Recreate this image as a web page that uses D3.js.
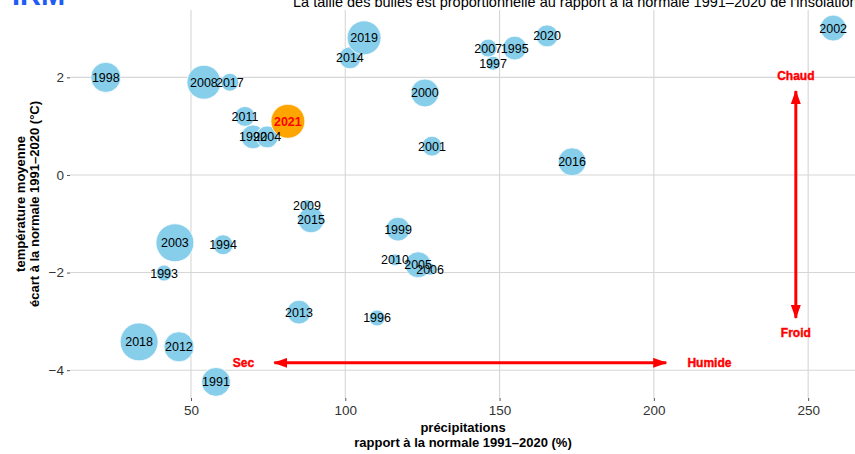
<!DOCTYPE html>
<html lang="fr">

<head>
    <meta charset="UTF-8">
    <title>Précipitations et température</title>
    <script src="https://d3js.org/d3.v7.min.js"></script>
    <style>
        body { margin: 0; background: white; }
        text { font-family: "Liberation Sans", Arial, sans-serif; }
    </style>
</head>

<body>
    <script>

        // one entry per year, same order in every array
        var years = [1991, 1992, 1993, 1994, 1995, 1996, 1997, 1998, 1999, 2000,
                     2001, 2002, 2003, 2004, 2005, 2006, 2007, 2008, 2009, 2010,
                     2011, 2012, 2013, 2014, 2015, 2016, 2017, 2018, 2019, 2020, 2021];
        // précipitations, % de la normale 1991-2020
        var precip = [58.1, 70.1, 41.3, 60.4, 154.9, 110.3, 147.9, 22.4, 117.1, 125.8,
                      128.1, 258.1, 44.8, 74.7, 123.6, 127.5, 146.3, 54.2, 87.6, 116.1,
                      67.5, 46.1, 85.0, 101.5, 88.9, 173.5, 62.6, 33.2, 106.1, 165.4, 81.4];
        // température, écart à la normale (°C)
        var temp = [-4.24, 0.78, -2.01, -1.43, 2.6, -2.93, 2.29, 2.0, -1.11, 1.68,
                    0.59, 3.01, -1.39, 0.78, -1.84, -1.93, 2.6, 1.9, -0.63, -1.74,
                    1.2, -3.52, -2.81, 2.4, -0.92, 0.27, 1.9, -3.42, 2.81, 2.85, 1.1];
        // insolation, % de la normale
        var insol = [109, 89, 62, 75, 89, 62, 56, 114, 89, 105,
                     75, 97, 150, 82, 97, 32, 68, 131, 32, 32,
                     75, 114, 89, 82, 97, 105, 68, 150, 131, 82, 131];

        var highlightYear = 2021;

        var xTicks = [50, 100, 150, 200, 250];
        var yTicks = [2, 0, -2, -4];

        // annotation arrows (data units)
        var hArrow = [77, 204, -3.85];   // x1, x2, y
        var vArrow = [246, 1.72, -2.93]; // x, y1, y2
        var arrowLabels = ["Sec", "Humide", "Chaud", "Froid"];
        var arrowLabelX = [67, 218, 246, 246];
        var arrowLabelY = [-3.85, -3.85, 2.03, -3.24];

        var width = 855, height = 454;
        var panelLeft = 70, panelRight = 856, panelTop = 10, panelBottom = 398;

        var data = years.map(function (y, i) {
            return { year: y, p: precip[i], t: temp[i], s: insol[i] };
        });
        // highlighted year on top
        data.sort(function (a, b) { return (a.year === highlightYear) - (b.year === highlightYear); });

        var x = d3.scaleLinear().domain([10.8, 265.5]).range([panelLeft, panelRight]);
        var y = d3.scaleLinear().domain([-4.57, 3.38]).range([panelBottom, panelTop]);
        var r = d3.scaleSqrt().domain([50, 160]).range([6, 20]).clamp(true);

        var svg = d3.select("body").append("svg")
            .attr("width", width)
            .attr("height", height);

        // grid
        var grid = svg.append("g");
        grid.selectAll(".gx")
            .data(xTicks)
            .enter()
                .append("line")
                .attr("x1", function (d) { return x(d); })
                .attr("x2", function (d) { return x(d); })
                .attr("y1", panelTop)
                .attr("y2", panelBottom)
                .attr("stroke", "#d6d6d6")
                .attr("stroke-width", 1.1);
        grid.selectAll(".gy")
            .data(yTicks)
            .enter()
                .append("line")
                .attr("x1", panelLeft)
                .attr("x2", panelRight)
                .attr("y1", function (d) { return y(d); })
                .attr("y2", function (d) { return y(d); })
                .attr("stroke", "#d6d6d6")
                .attr("stroke-width", 1.1);

        // axes
        var xAxis = d3.axisBottom(x).tickValues(xTicks).tickSize(3).tickPadding(4);
        var yAxis = d3.axisLeft(y).tickValues(yTicks).tickSize(3).tickPadding(3)
            .tickFormat(function (d) { return d < 0 ? "\u2212" + Math.abs(d) : d; });

        var gx = svg.append("g")
            .attr("transform", "translate(0," + panelBottom + ")")
            .call(xAxis);
        var gy = svg.append("g")
            .attr("transform", "translate(" + panelLeft + ",0)")
            .call(yAxis);
        [gx, gy].forEach(function (g) {
            g.select(".domain").remove();
            g.selectAll("line").attr("stroke", "#555");
            g.selectAll("text")
                .attr("fill", "#333")
                .attr("font-size", 13.5)
                .style("font-family", "Liberation Sans, Arial, sans-serif");
        });

        // bubbles
        svg.append("clipPath").attr("id", "panel")
            .append("rect")
            .attr("x", panelLeft).attr("y", 0)
            .attr("width", panelRight - panelLeft).attr("height", panelBottom);

        var bubbles = svg.append("g").attr("clip-path", "url(#panel)");
        bubbles.selectAll("circle")
            .data(data)
            .enter()
                .append("circle")
                .attr("cx", function (d) { return x(d.p); })
                .attr("cy", function (d) { return y(d.t); })
                .attr("r", function (d) { return r(d.s); })
                .attr("fill", function (d) { return d.year === highlightYear ? "orange" : "skyblue"; })
                .attr("stroke", "white")
                .attr("stroke-width", 0.8);

        bubbles.selectAll("text")
            .data(data)
            .enter()
                .append("text")
                .attr("x", function (d) { return x(d.p); })
                .attr("y", function (d) { return y(d.t); })
                .attr("dy", "0.36em")
                .attr("text-anchor", "middle")
                .attr("font-size", 12.5)
                .attr("font-weight", function (d) { return d.year === highlightYear ? "bold" : "normal"; })
                .attr("fill", function (d) { return d.year === highlightYear ? "red" : "black"; })
                .text(function (d) { return d.year; });

        // arrows
        var defs = svg.append("defs");
        defs.append("marker")
            .attr("id", "head")
            .attr("markerUnits", "userSpaceOnUse")
            .attr("viewBox", "0 -5 14 10")
            .attr("refX", 13)
            .attr("refY", 0)
            .attr("markerWidth", 14)
            .attr("markerHeight", 10)
            .attr("orient", "auto-start-reverse")
            .append("path")
            .attr("d", "M0,-5L14,0L0,5Z")
            .attr("fill", "red");

        svg.append("line")
            .attr("x1", x(hArrow[0])).attr("x2", x(hArrow[1]))
            .attr("y1", y(hArrow[2])).attr("y2", y(hArrow[2]))
            .attr("stroke", "red").attr("stroke-width", 3)
            .attr("marker-start", "url(#head)")
            .attr("marker-end", "url(#head)");
        svg.append("line")
            .attr("x1", x(vArrow[0])).attr("x2", x(vArrow[0]))
            .attr("y1", y(vArrow[1])).attr("y2", y(vArrow[2]))
            .attr("stroke", "red").attr("stroke-width", 3)
            .attr("marker-start", "url(#head)")
            .attr("marker-end", "url(#head)");

        svg.selectAll(".alab")
            .data(arrowLabels)
            .enter()
                .append("text")
                .attr("x", function (d, i) { return x(arrowLabelX[i]); })
                .attr("y", function (d, i) { return y(arrowLabelY[i]); })
                .attr("dy", "0.36em")
                .attr("text-anchor", "middle")
                .attr("font-size", 12)
                .attr("font-weight", "bold")
                .attr("fill", "red")
                .attr("stroke", "red")
                .attr("stroke-width", 0.4)
                .text(function (d) { return d; });

        // titles
        svg.append("text")
            .attr("x", 12)
            .attr("y", 5)
            .attr("font-size", 29)
            .attr("font-weight", "bold")
            .attr("fill", "#1f5cf5")
            .text("IRM");

        svg.append("text")
            .attr("x", 293)
            .attr("y", 7)
            .attr("font-size", 14.5)
            .attr("fill", "black")
            .text("La taille des bulles est proportionnelle au rapport à la normale 1991\u20132020 de l'insolation");

        var xt = svg.append("text")
            .attr("text-anchor", "middle")
            .attr("font-size", 13)
            .attr("font-weight", "bold");
        xt.append("tspan").attr("x", (panelLeft + panelRight) / 2).attr("y", 432).text("précipitations");
        xt.append("tspan").attr("x", (panelLeft + panelRight) / 2).attr("y", 447).text("rapport à la normale 1991\u20132020 (%)");

        var yt = svg.append("text")
            .attr("transform", "rotate(-90)")
            .attr("text-anchor", "middle")
            .attr("font-size", 13)
            .attr("font-weight", "bold");
        yt.append("tspan").attr("x", -(panelTop + panelBottom) / 2).attr("y", 25).text("température moyenne");
        yt.append("tspan").attr("x", -(panelTop + panelBottom) / 2).attr("y", 39).text("écart à la normale 1991\u20132020 (°C)");

    </script>

</body>

</html>
